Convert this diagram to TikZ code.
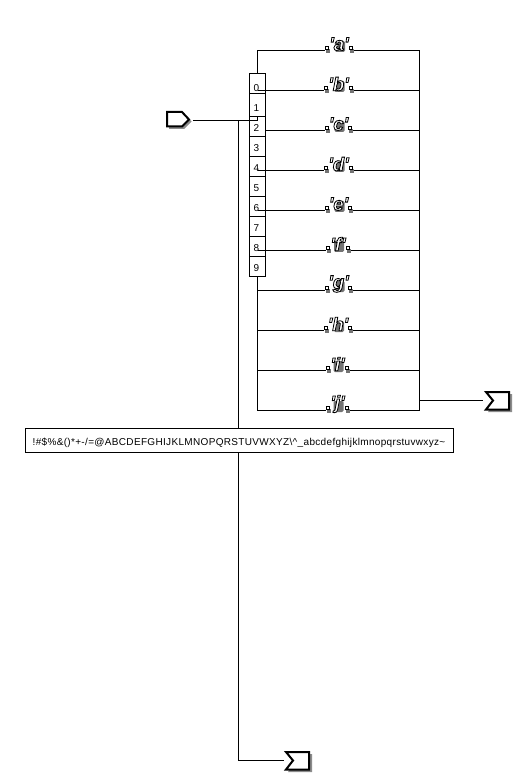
\documentclass[tikz,border=0pt]{standalone}
\usepackage{fontspec}
\setmainfont{Liberation Sans}
\newfontfamily\lblfont{Liberation Sans}
\tikzset{
  px/.style={x=0.75pt,y=-0.75pt},
  wire/.style={draw=black,line width=0.75pt},
  rowbox/.style={draw=black,fill=white,line width=0.75pt,minimum width=12pt,inner sep=0pt},
  textbox/.style={draw=black,fill=white,line width=0.75pt,minimum width=321pt,minimum height=18pt,inner sep=0pt},
  port/.style={draw=black,fill=white,line width=1.5pt,line join=miter},
  portshadow/.style={fill=black!45,draw=none},
  pin/.style={draw=black,fill=white,line width=0.6pt,minimum size=2.6pt,inner sep=0pt},
  pinshadow/.style={fill=black!55,draw=none},
  lettershadow/.style={fill=black!55,draw=none,rounded corners=1pt},
  letter/.style={inner sep=0pt,font=\lblfont\fontsize{14}{15}\selectfont\bfseries\itshape}
}
\newcommand{\outl}[1]{\special{pdf:code 2 Tr 0.6 w 0 0 0 RG 1 1 1 rg}#1\special{pdf:code 0 Tr 0 0 0 rg}}
\begin{document}
\begin{tikzpicture}[px]
\useasboundingbox (0,0) rectangle (518,780);
\fill[white] (0,0) rectangle (518,780);
\coordinate (tee) at (238.5,120.5);
\coordinate (t1) at (238.5,760.5);
\coordinate (rail1) at (257.5,50.5);
\coordinate (rail2) at (257.5,410.5);
\coordinate (railr1) at (419.5,50.5);
\coordinate (railr2) at (419.5,410.5);
% switch rows
\node[rowbox,minimum height=15pt] (r0) at (257.5,83.5) {};
\node[rowbox,minimum height=17.25pt] (r1) at (257.5,105) {};
\foreach \i/\y in {2/126.5,3/146.5,4/166.5,5/186.5,6/206.5,7/226.5,8/246.5,9/266.5}{
  \node[rowbox,minimum height=15pt] (r\i) at (257.5,\y) {};
}
\draw[wire] (rail1) -- (r0.north);
\draw[wire] (r9.south) -- (rail2);
\foreach \i/\y in {0/88,1/108,2/128,3/148,4/168,5/188,6/208,7/228,8/248,9/268}{
  \node[inner sep=0pt,font=\fontsize{7.5}{8}\selectfont] (d\i) at (256.5,\y) {\i};
}
% input port
\fill[portshadow] (169,114) -- (184,114) -- (191.5,121.5) -- (184,129) -- (169,129) -- cycle;
\draw[port] (167,112) -- (182,112) -- (189,119.5) -- (182,126.5) -- (167,126.5) -- cycle;
\coordinate (inend) at (193,120.5);
\draw[wire] (inend) -- (257.5,120.5) -- (257.5,116.5);
\draw[wire] (tee) -- (t1) -- (284,760.5);
% output ports
\foreach \nm/\x/\y in {outa/486/392,outb/286/752}{
  \fill[portshadow] (\x+2,\y+2) -- (\x+26,\y+2) -- (\x+26,\y+20) -- (\x+2,\y+20) -- (\x+9,\y+10) -- cycle;
  \draw[port] (\x,\y) -- (\x+23,\y) -- (\x+23,\y+17.5) -- (\x,\y+17.5) -- (\x+7,\y+8.5) -- cycle;
  \coordinate (\nm) at (\x,\y);
}
\draw[wire] (419.5,400.5) -- (483,400.5);
\draw[wire] (railr1) -- (railr2);
% labelled wires: letter, wire y, left pin x, right pin x, start x
\foreach \l/\y/\pl/\pr/\sx in {a/50/327/351/257.5,b/90/326/351/257.5,c/130/327/350/265.5,d/170/326/351/257.5,e/210/327/350/257.5,f/250/328/348/257.5,g/290/327/350/257.5,h/330/326/350/257.5,i/370/328/347/257.5,j/410/328/347/257.5}{
  \pgfmathsetmacro{\cx}{(\pl+\pr)/2}
  \coordinate (s\l) at (\sx,\y.5);
  \coordinate (e\l) at (419.5,\y.5);
  \fill[lettershadow] (\cx-4,\y-9) rectangle (\cx+6,\y+2);
  \fill[pinshadow] (\pl-1,\y-1) rectangle (\pl+3,\y+3);
  \fill[pinshadow] (\pr-1,\y-1) rectangle (\pr+3,\y+3);
  \node[pin] (pl\l) at (\pl,\y-2) {};
  \node[pin] (pr\l) at (\pr,\y-2) {};
  \draw[wire] (s\l) -- (\pl-2,\y.5);
  \draw[wire] (\pr+3,\y.5) -- (e\l);
  \node[letter] (n\l) at (\cx,\y-6) {\outl{'\l'}};
}
% text box
\node[textbox] (tb) at (239,440) {\raisebox{-4.4pt}[0pt][0pt]{\fontsize{7.5}{8}\selectfont\addfontfeature{LetterSpace=3.3}!\#\$\%\&()*+-/=@ABCDEFGHIJKLMNOPQRSTUVWXYZ\textbackslash\textasciicircum\_abcdefghijklmnopqrstuvwxyz\textasciitilde}};
\end{tikzpicture}
\end{document}
